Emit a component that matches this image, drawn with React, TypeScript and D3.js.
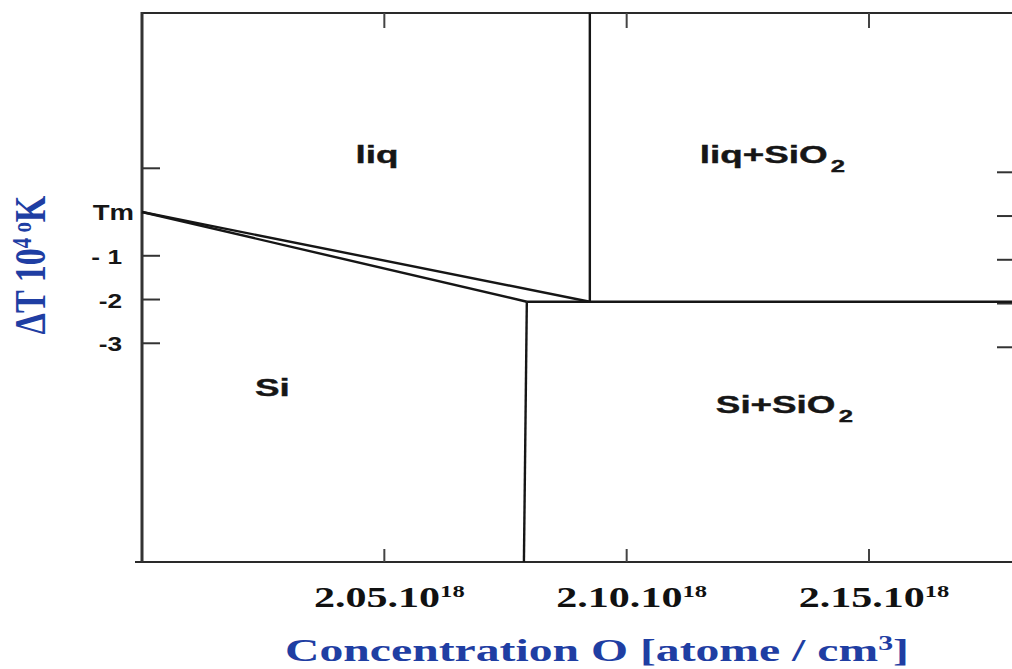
import React, { useRef, useEffect } from "react";
import * as d3 from "d3";

// axis values (concentration in 10^18 atoms/cm3, undercooling in 10^-4 K)
const xTicks = [2.05, 2.1, 2.15];
const xTickLabels = ["2.05.10", "2.10.10", "2.15.10"];
const xTickExp = "18";
const yTicks = [1, -1, -2, -3];
const yTickLabels = ["Tm", "- 1", "-2", "-3"];
const yTickValues = [0, -1, -2, -3];
const rightTicks = [1, 0, -1, -2, -3];

// phase boundaries
const liquidus = [[2.0, 0], [2.0924, -2.05]];
const solidus = [[2.0, 0], [2.0794, -2.05]];
const eutectic = [[2.0794, -2.05], [2.18, -2.05]];
const sio2Liquidus = [[2.0924, -2.05], [2.0924, 4.55]];
const sio2Solidus = [[2.0794, -2.05], [2.0788, -8]];

// region names
const regionNames = ["liq", "liq+SiO", "Si", "Si+SiO"];
const regionSub = ["", "2", "", "2"];
const regionX = [2.0485, 2.1151, 2.0233, 2.1184];
const regionY = [1.12, 1.12, -4.2, -4.6];
const regionAnchor = ["middle", "start", "start", "start"];

const App = () => {
  const ref = useRef(null);
  const width = 1012;
  const height = 669;

  useEffect(() => {
    const svg = d3.select(ref.current);
    svg.selectAll("*").remove();

    const x = d3.scaleLinear().domain([2.0, 2.15]).range([142, 869]);
    const y = d3.scaleLinear().domain([-8, 4.55]).range([562, 13]);
    const line = d3
      .line()
      .x((d) => x(d[0]))
      .y((d) => y(d[1]));

    const blue = "#1f3ea3";
    const ink = "#161616";

    // frame
    const x0 = x(2.0);
    const yTop = y(4.55);
    const yBot = y(-8);
    svg.append("line").attr("x1", x0).attr("x2", width).attr("y1", yTop).attr("y2", yTop)
      .attr("stroke", "#2a2a2a").attr("stroke-width", 2.2);
    svg.append("line").attr("x1", x0 - 7).attr("x2", width).attr("y1", yBot).attr("y2", yBot)
      .attr("stroke", "#2a2a2a").attr("stroke-width", 2.2);
    svg.append("line").attr("x1", x0).attr("x2", x0).attr("y1", yTop - 1).attr("y2", yBot)
      .attr("stroke", "#333").attr("stroke-width", 3);

    // ticks
    svg.selectAll(".ttop").data(xTicks).join("line")
      .attr("x1", (d) => x(d)).attr("x2", (d) => x(d))
      .attr("y1", yTop).attr("y2", yTop + 15)
      .attr("stroke", "#444").attr("stroke-width", 2);
    svg.selectAll(".tbot").data(xTicks).join("line")
      .attr("x1", (d) => x(d)).attr("x2", (d) => x(d))
      .attr("y1", yBot).attr("y2", yBot - 13)
      .attr("stroke", "#444").attr("stroke-width", 2);
    svg.selectAll(".tleft").data(yTicks).join("line")
      .attr("x1", x0).attr("x2", x0 + 18)
      .attr("y1", (d) => y(d)).attr("y2", (d) => y(d))
      .attr("stroke", "#333").attr("stroke-width", 2);
    svg.selectAll(".tright").data(rightTicks).join("line")
      .attr("x1", width - 15).attr("x2", width)
      .attr("y1", (d) => y(d) + 4).attr("y2", (d) => y(d) + 4)
      .attr("stroke", "#333").attr("stroke-width", 2);

    // boundaries
    [liquidus, solidus, eutectic, sio2Liquidus, sio2Solidus].forEach((p) => {
      svg.append("path").attr("d", line(p)).attr("fill", "none")
        .attr("stroke", ink).attr("stroke-width", 2.4);
    });

    // region labels
    regionNames.forEach((name, i) => {
      const t = svg.append("text")
        .attr("transform", `translate(${x(regionX[i])},${y(regionY[i])}) scale(1.6,1)`)
        .attr("text-anchor", regionAnchor[i])
        .attr("font-family", "Liberation Sans, Arial, sans-serif")
        .attr("font-weight", "bold").attr("font-size", 23).attr("fill", ink)
        .attr("stroke", ink).attr("stroke-width", 0.4);
      t.append("tspan").text(name);
      if (regionSub[i]) t.append("tspan").attr("dx", 2).attr("dy", 9).attr("font-size", 16).text(regionSub[i]);
    });

    // y tick labels
    yTickLabels.forEach((lab, i) => {
      svg.append("text")
        .attr("transform", `translate(${i === 0 ? 134 : 122},${y(yTickValues[i]) + 8}) scale(1.25,1)`)
        .attr("text-anchor", "end")
        .attr("font-family", "Liberation Sans, Arial, sans-serif")
        .attr("font-weight", "bold").attr("font-size", i === 0 ? 22 : 21).attr("fill", ink)
        .text(lab);
    });

    // x tick labels
    xTickLabels.forEach((lab, i) => {
      const t = svg.append("text")
        .attr("transform", `translate(${x(xTicks[i]) + 5},607) scale(1.45,1)`)
        .attr("text-anchor", "middle")
        .attr("font-family", "Liberation Serif, Times New Roman, serif")
        .attr("font-weight", "bold").attr("font-size", 29).attr("fill", "#111");
      t.append("tspan").text(lab);
      t.append("tspan").attr("dy", -10).attr("font-size", 17).text(xTickExp);
    });

    // axis titles
    const xt = svg.append("text")
      .attr("transform", `translate(597,661) scale(1.49,1)`)
      .attr("text-anchor", "middle")
      .attr("font-family", "Liberation Serif, Times New Roman, serif")
      .attr("font-weight", "bold").attr("font-size", 32).attr("fill", blue);
    xt.append("tspan").text("Concentration O [atome / cm");
    xt.append("tspan").attr("dy", -11).attr("font-size", 20).text("3");
    xt.append("tspan").attr("dy", 11).text("]");

    const yt = svg.append("text")
      .attr("transform", `translate(45,265) rotate(-90) scale(1.1,1.4)`)
      .attr("text-anchor", "middle")
      .attr("font-family", "Liberation Serif, Times New Roman, serif")
      .attr("font-weight", "bold").attr("font-size", 31).attr("fill", blue);
    yt.append("tspan").text("\u0394T 10");
    yt.append("tspan").attr("dy", -10).attr("font-size", 19).text("4");
    yt.append("tspan").attr("font-size", 19).text(" o");
    yt.append("tspan").attr("dy", 10).text("K");
  }, []);

  return (
    <svg
      ref={ref}
      width={width}
      height={height}
      style={{ position: "absolute", left: 0, top: 0, background: "#fff" }}
    ></svg>
  );
};

export default App;
